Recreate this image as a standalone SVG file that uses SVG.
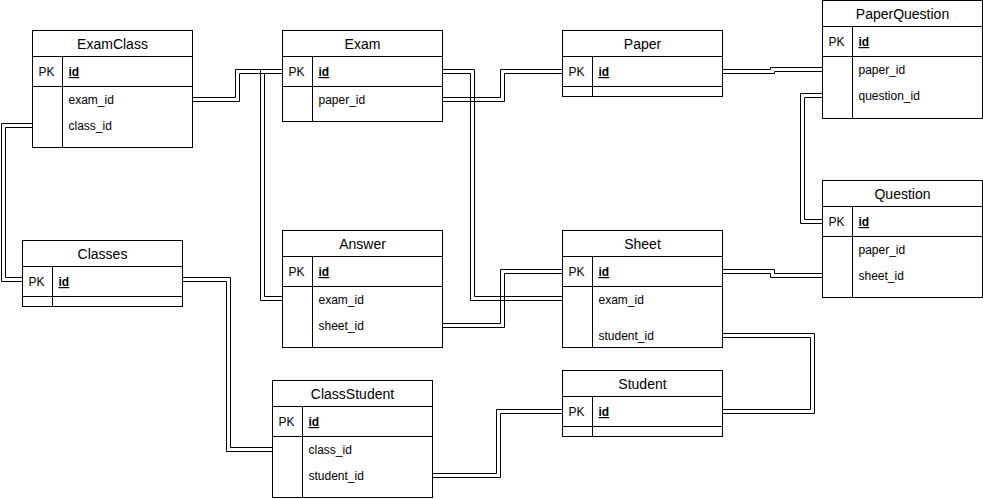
<svg xmlns="http://www.w3.org/2000/svg" width="983" height="499" viewBox="0 0 983 499">
<style>
.box{fill:#fff;stroke:#000;stroke-width:1}
.ln{stroke:#000;stroke-width:1;fill:none}
.t{font-family:"Liberation Sans",Arial,Helvetica,sans-serif;font-size:14px;fill:#000;text-anchor:middle}
.f{font-family:"Liberation Sans",Arial,Helvetica,sans-serif;font-size:12px;fill:#000}
.k{font-weight:bold;text-decoration:underline}
#connectors polyline{fill:none;stroke:#000;stroke-width:1}
</style>
<rect x="0" y="0" width="983" height="499" fill="#fff"/>
<g id="connectors">
<polyline points="192.5,97.5 235.5,97.5 235.5,69.5 282.5,69.5"/>
<polyline points="192.5,101.5 239.5,101.5 239.5,73.5 282.5,73.5"/>
<polyline points="32.5,127.5 5.5,127.5 5.5,277.5 22.5,277.5"/>
<polyline points="32.5,123.5 1.5,123.5 1.5,281.5 22.5,281.5"/>
<polyline points="282.5,73.5 264.5,73.5 264.5,296.5 282.5,296.5"/>
<polyline points="282.5,69.5 260.5,69.5 260.5,300.5 282.5,300.5"/>
<polyline points="442.5,69.5 474.5,69.5 474.5,296.5 562.5,296.5"/>
<polyline points="442.5,73.5 470.5,73.5 470.5,300.5 562.5,300.5"/>
<polyline points="442.5,97.5 500.5,97.5 500.5,69.5 562.5,69.5"/>
<polyline points="442.5,101.5 504.5,101.5 504.5,73.5 562.5,73.5"/>
<polyline points="722.5,69.5 770.5,69.5 770.5,67.5 822.5,67.5"/>
<polyline points="722.5,73.5 774.5,73.5 774.5,71.5 822.5,71.5"/>
<polyline points="822.5,97.5 804.5,97.5 804.5,219.5 822.5,219.5"/>
<polyline points="822.5,93.5 800.5,93.5 800.5,223.5 822.5,223.5"/>
<polyline points="722.5,269.5 774.5,269.5 774.5,273.5 822.5,273.5"/>
<polyline points="722.5,273.5 770.5,273.5 770.5,277.5 822.5,277.5"/>
<polyline points="442.5,323.5 500.5,323.5 500.5,269.5 562.5,269.5"/>
<polyline points="442.5,327.5 504.5,327.5 504.5,273.5 562.5,273.5"/>
<polyline points="722.5,333.5 814.5,333.5 814.5,413.5 722.5,413.5"/>
<polyline points="722.5,337.5 810.5,337.5 810.5,409.5 722.5,409.5"/>
<polyline points="182.5,277.5 230.5,277.5 230.5,447.5 272.5,447.5"/>
<polyline points="182.5,281.5 226.5,281.5 226.5,451.5 272.5,451.5"/>
<polyline points="432.5,473.5 496.5,473.5 496.5,409.5 562.5,409.5"/>
<polyline points="432.5,477.5 500.5,477.5 500.5,413.5 562.5,413.5"/>
</g>

<g id="ExamClass">
<rect class="box" x="32.5" y="30.5" width="160" height="117"/>
<path class="ln" d="M32.5 56.5H192.5M32.5 86.5H192.5M62.5 56.5V147.5"/>
<text class="t" x="112.5" y="48.5">ExamClass</text>
<text class="f" x="38.5" y="76">PK</text>
<text class="f k" x="68.5" y="76">id</text>
<text class="f" x="68.5" y="104">exam_id</text>
<text class="f" x="68.5" y="130">class_id</text>
</g>

<g id="Exam">
<rect class="box" x="282.5" y="30.5" width="160" height="91"/>
<path class="ln" d="M282.5 56.5H442.5M282.5 86.5H442.5M312.5 56.5V121.5"/>
<text class="t" x="362.5" y="48.5">Exam</text>
<text class="f" x="288.5" y="76">PK</text>
<text class="f k" x="318.5" y="76">id</text>
<text class="f" x="318.5" y="104">paper_id</text>
</g>

<g id="Paper">
<rect class="box" x="562.5" y="30.5" width="160" height="66"/>
<path class="ln" d="M562.5 56.5H722.5M562.5 86.5H722.5M592.5 56.5V96.5"/>
<text class="t" x="642.5" y="48.5">Paper</text>
<text class="f" x="568.5" y="76">PK</text>
<text class="f k" x="598.5" y="76">id</text>
</g>

<g id="PaperQuestion">
<rect class="box" x="822.5" y="0.5" width="160" height="118"/>
<path class="ln" d="M822.5 26.5H982.5M822.5 56.5H982.5M852.5 26.5V118.5"/>
<text class="t" x="902.5" y="18.5">PaperQuestion</text>
<text class="f" x="828.5" y="46">PK</text>
<text class="f k" x="858.5" y="46">id</text>
<text class="f" x="858.5" y="74">paper_id</text>
<text class="f" x="858.5" y="100">question_id</text>
</g>

<g id="Question">
<rect class="box" x="822.5" y="180.5" width="160" height="117"/>
<path class="ln" d="M822.5 206.5H982.5M822.5 236.5H982.5M852.5 206.5V297.5"/>
<text class="t" x="902.5" y="198.5">Question</text>
<text class="f" x="828.5" y="226">PK</text>
<text class="f k" x="858.5" y="226">id</text>
<text class="f" x="858.5" y="254">paper_id</text>
<text class="f" x="858.5" y="280">sheet_id</text>
</g>

<g id="Classes">
<rect class="box" x="22.5" y="240.5" width="160" height="66"/>
<path class="ln" d="M22.5 266.5H182.5M22.5 296.5H182.5M52.5 266.5V306.5"/>
<text class="t" x="102.5" y="258.5">Classes</text>
<text class="f" x="28.5" y="286">PK</text>
<text class="f k" x="58.5" y="286">id</text>
</g>

<g id="Answer">
<rect class="box" x="282.5" y="230.5" width="160" height="117"/>
<path class="ln" d="M282.5 256.5H442.5M282.5 286.5H442.5M312.5 256.5V347.5"/>
<text class="t" x="362.5" y="248.5">Answer</text>
<text class="f" x="288.5" y="276">PK</text>
<text class="f k" x="318.5" y="276">id</text>
<text class="f" x="318.5" y="304">exam_id</text>
<text class="f" x="318.5" y="330">sheet_id</text>
</g>

<g id="Sheet">
<rect class="box" x="562.5" y="230.5" width="160" height="117"/>
<path class="ln" d="M562.5 256.5H722.5M562.5 286.5H722.5M592.5 256.5V347.5"/>
<text class="t" x="642.5" y="248.5">Sheet</text>
<text class="f" x="568.5" y="276">PK</text>
<text class="f k" x="598.5" y="276">id</text>
<text class="f" x="598.5" y="304">exam_id</text>
<text class="f" x="598.5" y="340">student_id</text>
</g>

<g id="ClassStudent">
<rect class="box" x="272.5" y="380.5" width="160" height="117"/>
<path class="ln" d="M272.5 406.5H432.5M272.5 436.5H432.5M302.5 406.5V497.5"/>
<text class="t" x="352.5" y="398.5">ClassStudent</text>
<text class="f" x="278.5" y="426">PK</text>
<text class="f k" x="308.5" y="426">id</text>
<text class="f" x="308.5" y="454">class_id</text>
<text class="f" x="308.5" y="480">student_id</text>
</g>

<g id="Student">
<rect class="box" x="562.5" y="370.5" width="160" height="66"/>
<path class="ln" d="M562.5 396.5H722.5M562.5 426.5H722.5M592.5 396.5V436.5"/>
<text class="t" x="642.5" y="388.5">Student</text>
<text class="f" x="568.5" y="416">PK</text>
<text class="f k" x="598.5" y="416">id</text>
</g>
</svg>
